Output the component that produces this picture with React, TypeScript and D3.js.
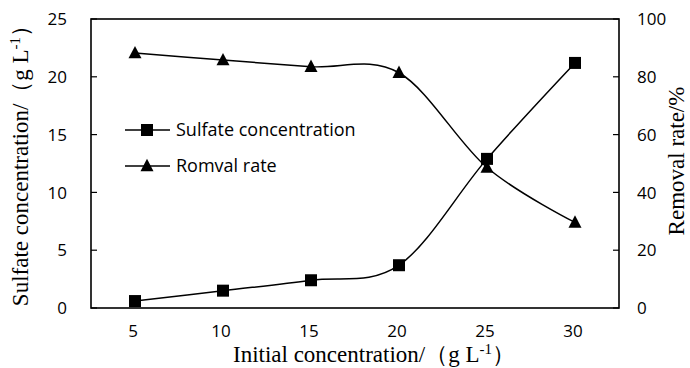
import React from "react";
import * as d3 from "d3";

const categories = ["5", "10", "15", "20", "25", "30"];
const sulfate = [0.6, 1.5, 2.4, 3.7, 12.9, 21.2];
const removal = [88.2, 85.8, 83.5, 81.4, 48.6, 29.6];
const leftTicks = [0, 5, 10, 15, 20, 25];
const rightTicks = [0, 20, 40, 60, 80, 100];

const W = 690, H = 368;
const L = 91, R = 619, T = 19, B = 308;
const tickFont = "'Open Sans', 'Noto Sans', sans-serif";
const serif = "'Liberation Serif', 'Times New Roman', serif";

export default function App() {
  const x = d3.scaleBand<string>().domain(categories).range([L, R]);
  const cx = (c: string) => (x(c) as number) + x.bandwidth() / 2;
  const yL = d3.scaleLinear().domain([0, 25]).range([B, T]);
  const yR = d3.scaleLinear().domain([0, 100]).range([B, T]);
  const curve = d3.curveCardinal.tension(0);
  const lineS = d3.line<number>().x((_, i) => cx(categories[i])).y((d) => yL(d)).curve(curve);
  const lineR = d3.line<number>().x((_, i) => cx(categories[i])).y((d) => yR(d)).curve(curve);
  const sq = 12;
  const tri = (px: number, py: number, s = 13) =>
    `M${px},${py - s * 0.55}L${px + s / 2},${py + s * 0.4}L${px - s / 2},${py + s * 0.4}Z`;

  return (
    <svg width={W} height={H} style={{ position: "absolute", left: 0, top: 0, background: "#fff" }}>
      <rect x={0} y={0} width={W} height={H} fill="#fff" />
      {/* frame */}
      <rect x={L} y={T} width={R - L} height={B - T} fill="none" stroke="#000" strokeWidth={1.6} />
      {/* left ticks */}
      {leftTicks.map((t) => (
        <g key={"l" + t}>
          <line x1={L} x2={L + 6} y1={yL(t)} y2={yL(t)} stroke="#000" strokeWidth={1.2} />
          <text x={67} y={yL(t)} dy="0.36em" textAnchor="end" fontFamily={tickFont} fontSize={17} fill="#000">
            {t}
          </text>
        </g>
      ))}
      {/* right ticks */}
      {rightTicks.map((t) => (
        <g key={"r" + t}>
          <line x1={R - 6} x2={R} y1={yR(t)} y2={yR(t)} stroke="#000" strokeWidth={1.2} />
          <text x={637} y={yR(t)} dy="0.36em" textAnchor="start" fontFamily={tickFont} fontSize={17} fill="#000">
            {t}
          </text>
        </g>
      ))}
      {/* x labels */}
      {categories.map((c) => (
        <text key={"x" + c} x={cx(c) - 2} y={337} textAnchor="middle" fontFamily={tickFont} fontSize={17} fill="#000">
          {c}
        </text>
      ))}
      {/* lines */}
      <path d={lineS(sulfate) || ""} fill="none" stroke="#000" strokeWidth={1.5} />
      <path d={lineR(removal) || ""} fill="none" stroke="#000" strokeWidth={1.5} />
      {sulfate.map((v, i) => (
        <rect key={"s" + i} x={cx(categories[i]) - sq / 2} y={yL(v) - sq / 2} width={sq} height={sq} fill="#000" />
      ))}
      {removal.map((v, i) => (
        <path key={"t" + i} d={tri(cx(categories[i]), yR(v))} fill="#000" />
      ))}
      {/* legend */}
      <line x1={125} x2={170} y1={130} y2={130} stroke="#000" strokeWidth={1.5} />
      <rect x={147 - sq / 2} y={130 - sq / 2} width={sq} height={sq} fill="#000" />
      <text x={176} y={130} dy="0.36em" fontFamily={tickFont} fontSize={18} fill="#000">
        Sulfate concentration
      </text>
      <line x1={125} x2={170} y1={166} y2={166} stroke="#000" strokeWidth={1.5} />
      <path d={tri(147, 166)} fill="#000" />
      <text x={176} y={166} dy="0.36em" fontFamily={tickFont} fontSize={18} fill="#000">
        Romval rate
      </text>
      {/* axis titles */}
      <text x={374} y={362} textAnchor="middle" fontFamily={serif} fontSize={23} fill="#000">
        Initial concentration/（g L<tspan dy={-8} fontSize={15}>-1</tspan>
        <tspan dy={8}>）</tspan>
      </text>
      <text
        transform={`translate(28,160) rotate(-90)`}
        textAnchor="middle"
        fontFamily={serif}
        fontSize={23}
        fill="#000"
      >
        Sulfate concentration/（g L<tspan dy={-8} fontSize={15}>-1</tspan>
        <tspan dy={8}>）</tspan>
      </text>
      <text
        transform={`translate(684,161) rotate(-90)`}
        textAnchor="middle"
        fontFamily={serif}
        fontSize={23}
        fill="#000"
      >
        Removal rate/%
      </text>
    </svg>
  );
}
